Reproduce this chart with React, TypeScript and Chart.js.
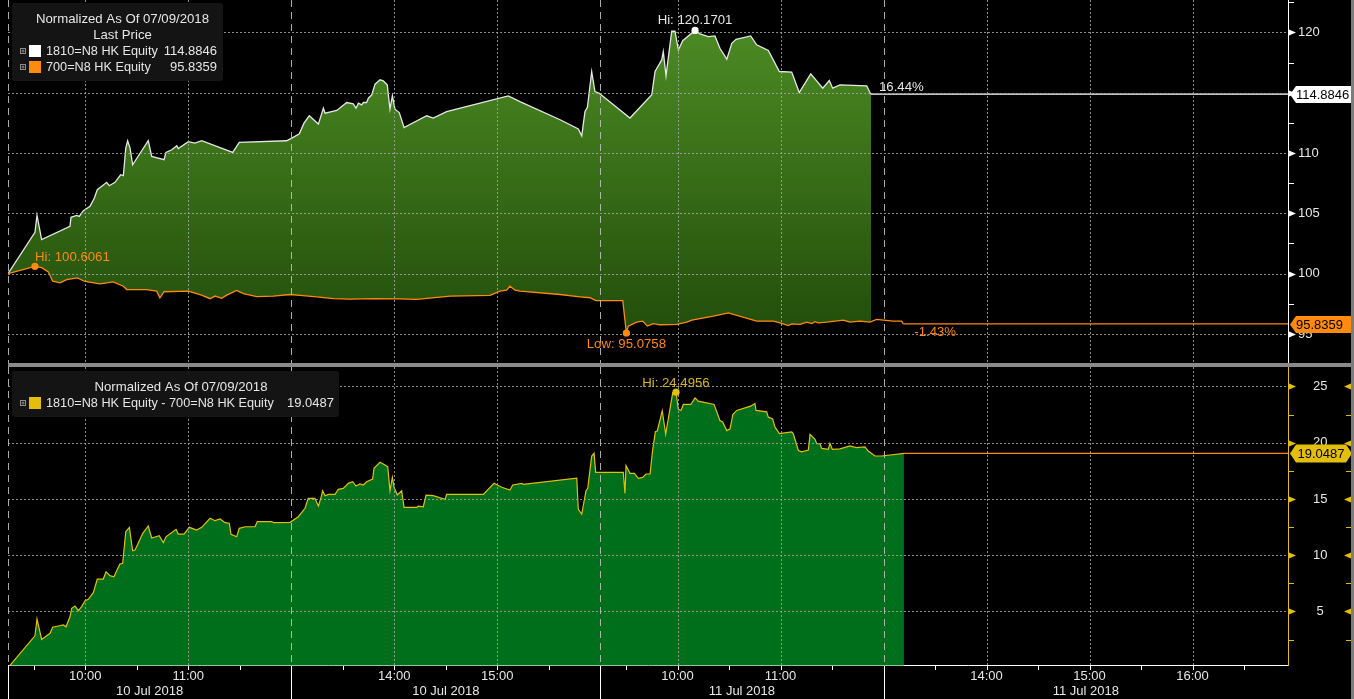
import React, { useEffect, useRef } from 'react';
import { Chart, registerables } from 'chart.js';

Chart.register(...registerables);

const FONT = '"Liberation Sans", Arial, sans-serif';
const FS = 13.2;
const AXFS = 13;
const LEGFS = 12.7;

// ---------- x axis: trading minutes since 09:15 on 10 Jul 2018 (lunch / overnight removed) ----------
const X_MAX = 745.6;
const hourTickT = [45, 105, 225, 285, 390, 450, 570, 630, 690];
const hourTickLabels = ['10:00', '11:00', '14:00', '15:00', '10:00', '11:00', '14:00', '15:00', '16:00'];
const halfHourT = [15, 45, 75, 105, 135, 195, 225, 255, 285, 315, 360, 390, 420, 450, 480, 540, 570, 600, 630, 660, 690, 720];
const sessionStartT = [0, 165, 345, 510];
const dateLabels = ['10 Jul 2018', '10 Jul 2018', '11 Jul 2018', '11 Jul 2018'];

// ---------- 1810 HK (normalized) ----------
const t1810 = [0, 15.7, 16.9, 19.6, 36.1, 36.7, 40.0, 41.5, 43.9, 47.8,
  50.3, 52.0, 57.5, 59.0, 62.3, 65.6, 67.2, 68.6, 69.7, 71.1,
  72.6, 81.7, 83.7, 90.9, 92.0, 95.4, 98.3, 99.2, 105.0, 108.9,
  112.8, 130.9, 134.7, 162.3, 165.3, 169.7, 172.4, 175.5, 180.8, 183.7,
  184.7, 191.5, 197.3, 201.1, 202.7, 204.1, 206.0, 207.0, 208.9, 209.9,
  211.9, 213.8, 216.7, 218.6, 220.9, 222.5, 223.9, 225.4, 227.9, 230.7,
  243.9, 247.7, 255.5, 291.4, 298.2, 321.6, 332.2, 334.2, 336.1, 337.5,
  340.0, 341.9, 344.4, 362.3, 375.0, 376.9, 380.8, 381.7, 383.3, 386.6,
  388.5, 390.5, 393.0, 400.2, 403.1, 407.9, 411.8, 414.7, 418.7, 421.6,
  424.1, 432.6, 436.1, 442.9, 449.3, 456.5, 460.9, 467.6, 474.6, 478.4,
  480.4, 484.6, 500.2, 502.1, 502.7];
const v1810 = [100, 103.43, 104.83, 102.82, 103.92, 104.67, 104.83, 104.75, 105.22, 105.58,
  106.27, 106.96, 107.57, 107.29, 107.57, 108.2, 108.12, 110.41, 111.02, 110.41,
  109.03, 111.02, 109.72, 109.45, 110.05, 110.27, 110.6, 110.38, 110.94, 110.83,
  111.02, 110.05, 110.88, 111.02, 111.24, 111.6, 112.48, 113.09, 112.4, 113.72,
  113.31, 113.53, 114.19, 114.08, 113.72, 114.14, 114.0, 114.19, 114.19, 114.55,
  114.83, 115.71, 116.07, 115.98, 115.65, 113.64, 114.74, 113.64, 113.36, 112.12,
  113.09, 112.9, 113.44, 114.74, 114.27, 112.76, 111.99, 111.43, 113.44, 113.8,
  116.76, 115.1, 114.96, 112.9, 114.83, 116.76, 117.72, 118.41, 116.4, 120.1,
  120.1, 118.55, 119.32, 120.1701, 119.88, 119.65, 119.71, 118.69, 117.78, 119.1,
  119.43, 119.71, 118.97, 118.5, 116.76, 116.71, 115.02, 116.57, 115.38, 116.01,
  115.38, 115.65, 115.57, 115.02, 114.8846];

// ---------- 700 HK (normalized) ----------
const t700 = [0, 15.7, 19.6, 23.5, 26.0, 30.3, 34.2, 40.4, 44.9, 53.6,
  61.3, 67.2, 69.1, 80.8, 86.6, 88.5, 90.9, 105.0, 112.8, 117.7,
  120.6, 124.5, 127.4, 133.2, 137.1, 144.9, 154.5, 164.3, 170.1, 179.8,
  189.5, 199.2, 212.8, 228.3, 238.1, 257.5, 280.8, 286.6, 290.5, 292.4,
  295.3, 298.2, 321.6, 333.2, 339.0, 342.5, 358.1, 360.2, 361.3, 366.2,
  369.7, 372.4, 375.9, 379.8, 389.5, 395.4, 398.3, 410.9, 419.6, 436.1,
  445.8, 449.7, 454.5, 456.5, 461.4, 465.3, 468.2, 470.1, 472.0, 476.9,
  486.6, 490.5, 496.3, 502.1, 506.0, 515.7, 520.6, 521.5];
const v700 = [100, 100.6061, 100.5, 100.15, 99.37, 99.24, 99.5, 99.65, 99.35, 99.15,
  99.32, 98.96, 98.68, 98.68, 98.55, 97.98, 98.5, 98.55, 98.22, 97.92,
  98.14, 97.95, 98.22, 98.6, 98.35, 98.1, 98.14, 98.27, 98.19, 98.08,
  97.92, 97.88, 97.92, 97.9, 97.86, 98.13, 98.19, 98.55, 98.63, 98.96,
  98.63, 98.55, 98.27, 98.08, 98.0, 97.77, 97.77, 95.0758, 95.65, 95.98,
  96.06, 95.65, 95.85, 95.76, 95.79, 95.98, 96.14, 96.47, 96.75, 96.06,
  96.06, 95.92, 95.7, 95.84, 95.79, 95.98, 95.86, 96.01, 95.92, 95.98,
  96.14, 95.98, 96.06, 95.98, 96.2, 96.06, 96.06, 95.8359];

// ---------- spread 1810 - 700 ----------
const tSpread = [0, 15.7, 16.9, 19.6, 24.5, 26.0, 29.3, 32.2, 33.8, 36.1,
  37.1, 39.0, 41.0, 42.9, 44.9, 46.8, 49.7, 52.0, 55.5, 57.1,
  59.4, 61.7, 63.3, 65.2, 66.8, 68.6, 70.7, 72.6, 74.0, 78.5,
  81.7, 83.7, 88.1, 90.5, 92.0, 97.9, 99.2, 102.5, 105.6, 109.9,
  112.8, 117.7, 120.6, 123.5, 126.4, 128.9, 129.9, 133.2, 134.7, 138.1,
  143.9, 145.2, 153.6, 155.0, 164.3, 169.1, 173.0, 174.9, 178.8, 180.8,
  182.2, 183.3, 184.7, 186.6, 190.5, 192.4, 195.3, 198.2, 200.8, 202.7,
  205.0, 207.0, 208.9, 212.4, 213.2, 216.7, 218.6, 221.2, 222.5, 223.9,
  224.9, 226.8, 229.3, 230.7, 238.1, 239.0, 241.9, 243.5, 247.7, 254.6,
  255.5, 276.9, 283.1, 287.6, 292.4, 294.0, 299.2, 300.2, 331.3, 332.2,
  334.2, 336.7, 337.7, 340.0, 341.4, 342.3, 358.4, 359.4, 360.0, 362.3,
  364.8, 367.2, 369.7, 371.6, 374.0, 375.5, 377.1, 378.2, 381.1, 383.1,
  387.2, 389.1, 390.5, 392.0, 393.4, 397.7, 400.2, 402.1, 411.3, 414.7,
  416.3, 418.7, 420.6, 422.2, 424.5, 432.6, 435.1, 435.7, 441.9, 442.9,
  445.4, 446.8, 449.3, 456.5, 457.4, 460.4, 462.3, 466.2, 467.2, 470.1,
  471.1, 473.0, 474.0, 477.8, 478.8, 480.2, 484.6, 490.5, 494.0, 499.2,
  501.1, 505.0, 508.9, 521.9];
const vSpread = [0, 2.84, 4.33, 2.52, 3.06, 3.6, 3.71, 3.8, 3.64, 4.53,
  5.28, 5.48, 5.07, 5.43, 5.96, 6.08, 6.67, 7.88, 7.88, 8.53,
  8.18, 8.09, 8.62, 9.22, 9.28, 12.09, 12.48, 10.4, 10.46, 11.95,
  12.6, 11.53, 11.73, 11.11, 11.64, 12.3, 11.88, 11.88, 12.48, 12.24,
  12.48, 13.28, 13.07, 13.22, 12.89, 12.84, 11.86, 11.64, 12.39, 12.53,
  12.53, 12.98, 12.98, 12.89, 12.92, 13.42, 14.17, 15.06, 15.06, 14.37,
  15.06, 15.73, 15.29, 15.41, 15.41, 15.86, 15.94, 16.39, 16.53, 16.15,
  16.33, 16.24, 16.53, 16.77, 17.72, 18.26, 18.11, 17.87, 15.73, 16.92,
  16.04, 15.35, 15.73, 14.26, 14.26, 14.37, 14.31, 15.35, 15.29, 14.97,
  15.41, 15.41, 16.39, 16.04, 15.8, 16.24, 16.39, 16.3, 16.84, 14.08,
  13.66, 15.73, 15.94, 18.82, 19.06, 17.37, 17.37, 15.5, 17.96, 17.28,
  17.28, 16.84, 16.92, 17.22, 17.22, 19.35, 20.98, 21.04, 22.84, 20.77,
  24.45, 24.4956, 22.97, 22.87, 23.4, 23.4, 23.99, 23.7, 23.4, 21.97,
  21.85, 21.08, 21.23, 22.51, 22.87, 23.25, 23.49, 22.87, 22.74, 22.27,
  22.12, 21.38, 20.82, 20.96, 20.82, 19.31, 19.19, 19.34, 20.74, 20.3,
  19.91, 19.91, 19.5, 19.41, 19.94, 19.41, 19.46, 19.71, 19.56, 19.62,
  19.26, 18.82, 18.82, 19.0487];

// ---------- y axes ----------
const TOP_MIN = 92.59;
const TOP_MAX = 122.69;
const topTicks = [95, 100, 105, 110, 115, 120];
const topMinorTicks = [97.5, 102.5, 107.5, 112.5, 117.5, 122.5];
const BOT_MIN = 0.18;
const BOT_MAX = 26.73;
const botTicks = [5, 10, 15, 20, 25];
const botMinorTicks = [2.5, 7.5, 12.5, 17.5, 22.5];

// ---------- texts / annotations ----------
const LEGEND_TITLE = 'Normalized As Of 07/09/2018';
const LEGEND_SUB = 'Last Price';
const name1810 = '1810=N8 HK Equity';
const name700 = '700=N8 HK Equity';
const nameSpread = '1810=N8 HK Equity - 700=N8 HK Equity';
const LAST_1810 = 114.8846;
const LAST_700 = 95.8359;
const LAST_SPREAD = 19.0487;
const CHG_1810 = '16.44%';
const CHG_700 = '-1.43%';
const HI_1810 = { t: 400.2, v: 120.1701, label: 'Hi: 120.1701' };
const HI_700 = { t: 15.7, v: 100.6061, label: 'Hi: 100.6061' };
const LOW_700 = { t: 360.2, v: 95.0758, label: 'Low: 95.0758' };
const HI_SPREAD = { t: 389.1, v: 24.4956, label: 'Hi: 24.4956' };

const WHITE = '#e6e6e6';
const ORANGE = '#ff8a10';
const YELLOW = '#e3bf0c';
const YELLOW_TXT = '#d6b41c';
const GREEN = '#006f1c';
const GRID = 'rgba(165,165,165,0.85)';
const SESSION = 'rgba(190,190,190,0.9)';

const pts = (ts: number[], vs: number[]) => ts.map((t, i) => ({ x: t, y: vs[i] }));
const font = (s = FS) => `${s}px ${FONT}`;

function drawGrid(chart: any, yTicks: number[]) {
  const { ctx, chartArea: a, scales } = chart;
  const x = scales.x, y = scales.y;
  ctx.save();
  ctx.beginPath();
  ctx.rect(a.left, a.top, a.right - a.left, a.bottom - a.top);
  ctx.clip();
  ctx.lineWidth = 1;
  ctx.strokeStyle = GRID;
  ctx.setLineDash([2, 2]);
  for (const v of yTicks) {
    const py = Math.round(y.getPixelForValue(v)) + 0.5;
    ctx.beginPath(); ctx.moveTo(a.left, py); ctx.lineTo(a.right, py); ctx.stroke();
  }
  for (const t of hourTickT) {
    const px = Math.round(x.getPixelForValue(t)) + 0.5;
    ctx.beginPath(); ctx.moveTo(px, a.top); ctx.lineTo(px, a.bottom); ctx.stroke();
  }
  ctx.setLineDash([7, 5]);
  ctx.strokeStyle = SESSION;
  for (const t of sessionStartT) {
    const px = Math.round(x.getPixelForValue(t)) + 0.5;
    ctx.beginPath(); ctx.moveTo(px, a.top); ctx.lineTo(px, a.bottom); ctx.stroke();
  }
  ctx.restore();
}

function roundRect(ctx: CanvasRenderingContext2D, x: number, y: number, w: number, h: number, r: number) {
  ctx.beginPath();
  ctx.moveTo(x + r, y);
  ctx.lineTo(x + w - r, y); ctx.quadraticCurveTo(x + w, y, x + w, y + r);
  ctx.lineTo(x + w, y + h - r); ctx.quadraticCurveTo(x + w, y + h, x + w - r, y + h);
  ctx.lineTo(x + r, y + h); ctx.quadraticCurveTo(x, y + h, x, y + h - r);
  ctx.lineTo(x, y + r); ctx.quadraticCurveTo(x, y, x + r, y);
  ctx.closePath();
}

function plusIcon(ctx: CanvasRenderingContext2D, x: number, y: number) {
  ctx.save();
  ctx.strokeStyle = '#8c8c8c';
  ctx.lineWidth = 1;
  ctx.strokeRect(x + 0.5, y + 0.5, 5, 5);
  ctx.beginPath();
  ctx.moveTo(x + 1.5, y + 3); ctx.lineTo(x + 4.5, y + 3);
  ctx.moveTo(x + 3, y + 1.5); ctx.lineTo(x + 3, y + 4.5);
  ctx.stroke();
  ctx.restore();
}

function text(ctx: CanvasRenderingContext2D, s: string, x: number, y: number, color: string, align: CanvasTextAlign = 'left', size = FS) {
  ctx.font = font(size);
  ctx.fillStyle = color;
  ctx.textAlign = align;
  ctx.textBaseline = 'middle';
  ctx.fillText(s, x, y);
}

function tag(ctx: CanvasRenderingContext2D, x0: number, x1: number, yc: number, h: number, both: boolean, fill: string, s: string) {
  const hh = h / 2;
  ctx.beginPath();
  ctx.moveTo(x0, yc);
  ctx.lineTo(x0 + 6, yc - hh);
  if (both) { ctx.lineTo(x1 - 6, yc - hh); ctx.lineTo(x1, yc); ctx.lineTo(x1 - 6, yc + hh); }
  else { ctx.lineTo(x1, yc - hh); ctx.lineTo(x1, yc + hh); }
  ctx.lineTo(x0 + 6, yc + hh);
  ctx.closePath();
  ctx.fillStyle = fill;
  ctx.fill();
  if (both) text(ctx, s, (x0 + x1) / 2, yc + 0.5, '#000', 'center', AXFS);
  else text(ctx, s, x0 + 6, yc + 0.5, '#000', 'left', AXFS);
}

function dot(ctx: CanvasRenderingContext2D, x: number, y: number, color: string) {
  ctx.beginPath();
  ctx.arc(x, y, 3.6, 0, Math.PI * 2);
  ctx.fillStyle = color;
  ctx.fill();
}

function axisMarks(chart: any, ticks: number[], minor: number[], color: string, both: boolean) {
  const { ctx, chartArea: a, scales: { y } } = chart;
  const R = a.right;
  ctx.save();
  ctx.fillStyle = color;
  ctx.strokeStyle = color;
  ctx.lineWidth = 1;
  for (const v of ticks) {
    const py = Math.round(y.getPixelForValue(v)) + 0.5;
    ctx.beginPath(); ctx.moveTo(R + 1, py - 3); ctx.lineTo(R + 8, py); ctx.lineTo(R + 1, py + 3); ctx.closePath(); ctx.fill();
    if (both) {
      ctx.beginPath(); ctx.moveTo(R + 63, py - 3); ctx.lineTo(R + 56, py); ctx.lineTo(R + 63, py + 3); ctx.closePath(); ctx.fill();
    }
  }
  for (const v of minor) {
    const py = Math.round(y.getPixelForValue(v)) + 0.5;
    if (py < a.top || py > a.bottom) continue;
    ctx.beginPath(); ctx.moveTo(R + 1, py); ctx.lineTo(R + 6, py); ctx.stroke();
    if (both) { ctx.beginPath(); ctx.moveTo(R + 58, py); ctx.lineTo(R + 63, py); ctx.stroke(); }
  }
  ctx.restore();
}

const topDecor = {
  id: 'topDecor',
  afterDatasetsDraw(chart: any) { drawGrid(chart, topTicks); },
  afterDraw(chart: any) {
    const { ctx, chartArea: a, scales: { x, y } } = chart;
    axisMarks(chart, topTicks, topMinorTicks, '#ffffff', false);
    ctx.save();
    // annotations
    const hx = x.getPixelForValue(HI_1810.t), hy = y.getPixelForValue(HI_1810.v);
    dot(ctx, hx, hy, '#ffffff');
    text(ctx, HI_1810.label, hx, hy - 10, WHITE, 'center');
    const ox = x.getPixelForValue(HI_700.t), oy = y.getPixelForValue(HI_700.v);
    dot(ctx, ox, oy, ORANGE);
    text(ctx, HI_700.label, ox, oy - 9, ORANGE, 'left');
    const lx = x.getPixelForValue(LOW_700.t), ly = y.getPixelForValue(LOW_700.v);
    dot(ctx, lx, ly, ORANGE);
    text(ctx, LOW_700.label, lx, ly + 11, ORANGE, 'center');
    const e1 = x.getPixelForValue(t1810[t1810.length - 1]);
    text(ctx, CHG_1810, e1 + 8, y.getPixelForValue(LAST_1810) - 7, WHITE, 'left');
    const e2 = x.getPixelForValue(t700[t700.length - 1]);
    text(ctx, CHG_700, e2 + 11, y.getPixelForValue(LAST_700) + 9, ORANGE, 'left');
    // value tags
    tag(ctx, a.right + 2, a.right + 64, Math.round(y.getPixelForValue(LAST_1810)) + 0.5, 17, false, '#ffffff', LAST_1810.toFixed(4));
    tag(ctx, a.right + 2, a.right + 64, Math.round(y.getPixelForValue(LAST_700)) + 0.5, 17, false, ORANGE, LAST_700.toFixed(4));
    // legend
    ctx.fillStyle = '#141414';
    roundRect(ctx, 12, 3, 211, 78, 3);
    ctx.fill();
    text(ctx, LEGEND_TITLE, 122.5, 19, WHITE, 'center');
    text(ctx, LEGEND_SUB, 122.5, 35, WHITE, 'center');
    plusIcon(ctx, 20, 48);
    ctx.fillStyle = '#ffffff'; ctx.fillRect(29, 45, 12, 12);
    text(ctx, name1810, 46, 51.5, WHITE, 'left', LEGFS);
    text(ctx, LAST_1810.toFixed(4), 217, 51.5, WHITE, 'right', AXFS);
    plusIcon(ctx, 20, 64);
    ctx.fillStyle = ORANGE; ctx.fillRect(29, 61, 12, 12);
    text(ctx, name700, 46, 67.5, WHITE, 'left', LEGFS);
    text(ctx, LAST_700.toFixed(4), 217, 67.5, WHITE, 'right', AXFS);
    ctx.restore();
  },
};

const botDecor = {
  id: 'botDecor',
  afterDatasetsDraw(chart: any) { drawGrid(chart, botTicks); },
  afterDraw(chart: any) {
    const { ctx, chartArea: a, scales: { x, y } } = chart;
    axisMarks(chart, botTicks, botMinorTicks, YELLOW, true);
    ctx.save();
    // x-axis marks, session separators, dates
    ctx.strokeStyle = '#ffffff';
    ctx.lineWidth = 1;
    const ab = Math.round(a.bottom);
    for (const t of halfHourT) {
      const px = Math.round(x.getPixelForValue(t)) + 0.5;
      ctx.beginPath(); ctx.moveTo(px, ab); ctx.lineTo(px, ab + 4); ctx.stroke();
    }
    const bounds = [...sessionStartT, X_MAX];
    for (const t of sessionStartT) {
      const px = Math.round(x.getPixelForValue(t)) + 0.5;
      ctx.beginPath(); ctx.moveTo(px, ab); ctx.lineTo(px, chart.height); ctx.stroke();
    }
    dateLabels.forEach((d, i) => {
      const cx = (x.getPixelForValue(bounds[i]) + x.getPixelForValue(bounds[i + 1])) / 2;
      text(ctx, d, cx, ab + 25, WHITE, 'center', AXFS);
    });
    // annotation
    const hx = x.getPixelForValue(HI_SPREAD.t), hy = y.getPixelForValue(HI_SPREAD.v);
    dot(ctx, hx, hy, YELLOW);
    text(ctx, HI_SPREAD.label, hx, hy - 9, YELLOW_TXT, 'center');
    // value tag
    tag(ctx, a.right + 2, a.right + 64, Math.round(y.getPixelForValue(LAST_SPREAD)) + 0.5, 18, true, YELLOW, LAST_SPREAD.toFixed(4));
    // legend
    ctx.fillStyle = '#141414';
    roundRect(ctx, 12, 4, 327, 46, 3);
    ctx.fill();
    text(ctx, LEGEND_TITLE, 181, 20, WHITE, 'center');
    plusIcon(ctx, 20, 33);
    ctx.fillStyle = YELLOW; ctx.fillRect(29, 30, 12, 12);
    text(ctx, nameSpread, 46, 36.5, WHITE, 'left', LEGFS);
    text(ctx, LAST_SPREAD.toFixed(4), 334, 36.5, WHITE, 'right', AXFS);
    ctx.restore();
  },
};

function topGradient(c: any) {
  const chart = c.chart;
  const a = chart.chartArea;
  if (!a) return 'rgb(55,110,25)';
  const g = chart.ctx.createLinearGradient(0, a.top, 0, a.bottom);
  g.addColorStop(0, 'rgb(80,144,38)');
  g.addColorStop(1, 'rgb(30,72,8)');
  return g;
}

function topConfig(): any {
  return {
    type: 'line',
    data: {
      datasets: [
        { label: name1810, data: pts(t1810, v1810), borderColor: WHITE, borderWidth: 1.3, pointRadius: 0, fill: 1, backgroundColor: topGradient, order: 1 },
        { label: name700, data: pts(t700, v700), borderColor: ORANGE, borderWidth: 1.3, pointRadius: 0, fill: false, order: 0 },
        { label: 'last1810', data: [{ x: t1810[t1810.length - 1], y: LAST_1810 }, { x: X_MAX, y: LAST_1810 }], borderColor: '#ffffff', borderWidth: 1.2, pointRadius: 0, fill: false, order: 0 },
        { label: 'last700', data: [{ x: t700[t700.length - 1], y: LAST_700 }, { x: X_MAX, y: LAST_700 }], borderColor: ORANGE, borderWidth: 1.2, pointRadius: 0, fill: false, order: 0 },
      ],
    },
    options: {
      animation: false,
      responsive: false,
      devicePixelRatio: 1,
      events: [],
      layout: { padding: { left: 8, right: 0, top: 0, bottom: 0 } },
      plugins: { legend: { display: false }, tooltip: { enabled: false } },
      scales: {
        x: {
          type: 'linear', min: 0, max: X_MAX, display: false,
          afterFit: (s: any) => { s.height = 0; s.paddingLeft = 0; s.paddingRight = 0; },
        },
        y: {
          position: 'right', min: TOP_MIN, max: TOP_MAX,
          afterBuildTicks: (s: any) => { s.ticks = topTicks.map((v) => ({ value: v })); },
          afterFit: (s: any) => { s.width = 66; s.paddingTop = 0; s.paddingBottom = 0; },
          grid: { display: false, drawTicks: false },
          border: { display: true, color: '#ffffff', width: 1 },
          ticks: { color: WHITE, padding: 10, font: { size: AXFS, family: FONT }, callback: (v: any) => String(v) },
        },
      },
    },
    plugins: [topDecor],
  };
}

function botConfig(): any {
  return {
    type: 'line',
    data: {
      datasets: [
        { label: nameSpread, data: pts(tSpread, vSpread), borderColor: YELLOW, borderWidth: 1.2, pointRadius: 0, fill: 'start', backgroundColor: GREEN, order: 1 },
        { label: 'lastSpread', data: [{ x: tSpread[tSpread.length - 1], y: LAST_SPREAD }, { x: X_MAX, y: LAST_SPREAD }], borderColor: ORANGE, borderWidth: 1.2, pointRadius: 0, fill: false, order: 0 },
      ],
    },
    options: {
      animation: false,
      responsive: false,
      devicePixelRatio: 1,
      events: [],
      layout: { padding: { left: 8, right: 0, top: 0, bottom: 0 } },
      plugins: { legend: { display: false }, tooltip: { enabled: false } },
      scales: {
        x: {
          type: 'linear', min: 0, max: X_MAX,
          afterBuildTicks: (s: any) => { s.ticks = hourTickT.map((v) => ({ value: v })); },
          afterFit: (s: any) => { s.height = 33.3; s.paddingLeft = 0; s.paddingRight = 0; },
          grid: { display: false, drawTicks: false },
          border: { display: true, color: '#ffffff', width: 1 },
          ticks: {
            color: WHITE, padding: 3, autoSkip: false, maxRotation: 0, font: { size: AXFS, family: FONT },
            callback: (_v: any, i: number) => hourTickLabels[i],
          },
        },
        y: {
          position: 'right', min: BOT_MIN, max: BOT_MAX,
          afterBuildTicks: (s: any) => { s.ticks = botTicks.map((v) => ({ value: v })); },
          afterFit: (s: any) => { s.width = 66; s.paddingTop = 0; s.paddingBottom = 0; },
          grid: { display: false, drawTicks: false },
          border: { display: true, color: YELLOW, width: 1 },
          ticks: { color: WHITE, padding: 25, crossAlign: 'center', font: { size: AXFS, family: FONT }, callback: (v: any) => String(v) },
        },
      },
    },
    plugins: [botDecor],
  };
}

export default function App() {
  const topRef = useRef<HTMLCanvasElement>(null);
  const botRef = useRef<HTMLCanvasElement>(null);
  useEffect(() => {
    document.body.style.margin = '0';
    document.body.style.background = '#000';
    const top = new Chart(topRef.current as HTMLCanvasElement, topConfig());
    const bot = new Chart(botRef.current as HTMLCanvasElement, botConfig());
    return () => { top.destroy(); bot.destroy(); };
  }, []);
  return (
    <div style={{ position: 'fixed', left: 0, top: 0, width: 1354, height: 699, background: '#000', overflow: 'hidden' }}>
      <div style={{ position: 'absolute', left: 0, top: 0, width: 1354, height: 363 }}>
        <canvas ref={topRef} width={1354} height={363} style={{ display: 'block', width: 1354, height: 363 }} />
      </div>
      <div style={{ position: 'absolute', left: 8, top: 363, width: 1346, height: 4, background: '#8a8a8a' }} />
      <div style={{ position: 'absolute', left: 0, top: 367, width: 1354, height: 332 }}>
        <canvas ref={botRef} width={1354} height={332} style={{ display: 'block', width: 1354, height: 332 }} />
      </div>
      <div style={{ position: 'absolute', left: 1351, top: 0, width: 3, height: 699, background: '#7d7d7d' }} />
    </div>
  );
}
